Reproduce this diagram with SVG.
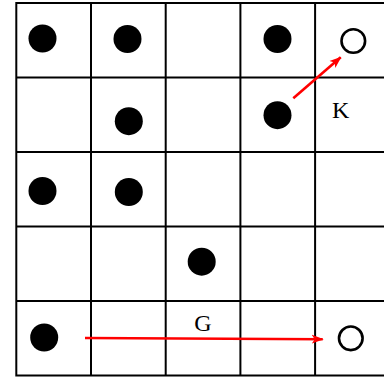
<svg xmlns="http://www.w3.org/2000/svg" width="384" height="380" viewBox="0 0 384 380">
<defs>
<style>
.grid{stroke:#000;stroke-width:2;fill:none}
.dot{fill:#000}
.open{fill:#fff;stroke:#000;stroke-width:2.6}
.arr{stroke:#f00;stroke-width:2.6;fill:none}
.lbl{font-family:"Liberation Serif","Times New Roman",serif;font-size:24px;fill:#000}
</style>
<marker id="ah" markerWidth="12" markerHeight="10" refX="11" refY="5" orient="auto" markerUnits="userSpaceOnUse">
<path d="M0,0.5 L12,5 L0,9.5 L3,5 z" fill="#f00"/>
</marker>
</defs>
<rect width="384" height="380" fill="#fff"/>
<g id="grid">
<rect class="grid" x="16.3" y="3" width="373.5" height="372.5"/>
<path class="grid" d="M91,3V375.5M165.7,3V375.5M240.4,3V375.5M315.1,3V375.5M16.3,77.5H389.8M16.3,152H389.8M16.3,226.5H389.8M16.3,301H389.8"/>
</g>
<g id="n1"><circle class="dot" cx="42.5" cy="38.5" r="14"/></g>
<g id="n2"><circle class="dot" cx="127.5" cy="39" r="14"/></g>
<g id="n3"><circle class="dot" cx="277.5" cy="39" r="14"/></g>
<g id="n4"><circle class="open" cx="353.3" cy="41" r="11.8"/></g>
<g id="n5"><circle class="dot" cx="128.8" cy="121.2" r="14"/></g>
<g id="n6"><circle class="dot" cx="277.5" cy="115.2" r="14"/></g>
<g id="n7"><circle class="dot" cx="42.5" cy="191" r="14"/></g>
<g id="n8"><circle class="dot" cx="128.8" cy="192" r="14"/></g>
<g id="n9"><circle class="dot" cx="201.7" cy="261.7" r="14"/></g>
<g id="n10"><circle class="dot" cx="44.2" cy="337.5" r="14"/></g>
<g id="n11"><circle class="open" cx="350.8" cy="338.3" r="11.8"/></g>
<g id="connectors">
<path class="arr" d="M293.3,98.3 L340.7,57.3" marker-end="url(#ah)"/>
<path class="arr" d="M85,338 L322.7,339.3" marker-end="url(#ah)"/>
</g>
<g id="labels">
<text class="lbl" x="332" y="118.3">K</text>
<text class="lbl" x="203" y="331" text-anchor="middle">G</text>
</g>
</svg>
